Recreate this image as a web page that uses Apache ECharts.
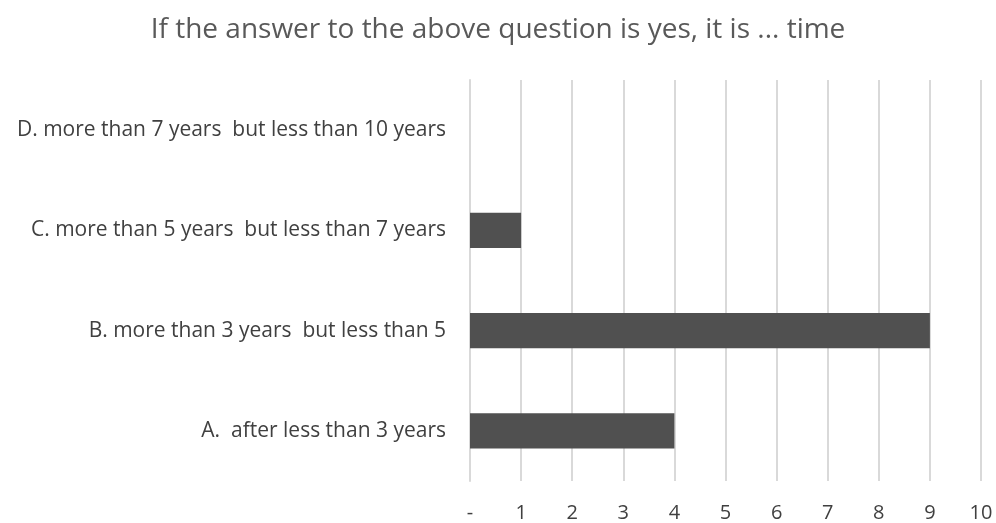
<!DOCTYPE html>
<html>
<head>
<meta charset="utf-8">
<script src="https://cdn.jsdelivr.net/npm/echarts@6/dist/echarts.min.js"></script>
<style>
  html, body { margin: 0; padding: 0; background: #ffffff; }
  #chart { width: 996px; height: 523px; }
</style>
</head>
<body>
<div id="chart"></div>
<script>
// Answer categories, bottom to top
var categories = [
  'A.  after less than 3 years',
  'B. more than 3 years  but less than 5',
  'C. more than 5 years  but less than 7 years',
  'D. more than 7 years  but less than 10 years'
];
// Number of responses per category
var counts = [4, 9, 1, 0];
// Tick labels along the value axis
var tickLabels = ['-', '1', '2', '3', '4', '5', '6', '7', '8', '9', '10'];

var chart = echarts.init(document.getElementById('chart'), null, { renderer: 'canvas' });
var fontFam = '"Open Sans", "Noto Sans", sans-serif';

chart.setOption({
  animation: false,
  backgroundColor: '#ffffff',
  title: {
    text: 'If the answer to the above question is yes, it is ... time',
    left: 'center',
    top: 11,
    textStyle: { fontFamily: fontFam, fontSize: 28, fontWeight: 'normal', color: '#595959' }
  },
  grid: { left: 470, right: 15, top: 80, bottom: 40, containLabel: false },
  xAxis: {
    type: 'value',
    min: 0,
    max: 10,
    interval: 1,
    axisLine: { show: false },
    axisTick: { show: false },
    splitLine: { show: true, lineStyle: { color: '#d9d9d9', width: 2 } },
    axisLabel: {
      margin: 22,
      fontFamily: fontFam,
      fontSize: 20,
      color: '#404040',
      formatter: function (v) { return tickLabels[Math.round(v)]; }
    }
  },
  yAxis: {
    type: 'category',
    data: categories,
    axisLine: { show: true, lineStyle: { color: '#d9d9d9', width: 2 } },
    axisTick: { show: false },
    axisLabel: { margin: 24, fontFamily: fontFam, fontSize: 21, color: '#404040' }
  },
  series: [{
    type: 'bar',
    data: counts,
    barWidth: '35%',
    itemStyle: { color: '#505050' }
  }]
});
</script>
</body>
</html>
